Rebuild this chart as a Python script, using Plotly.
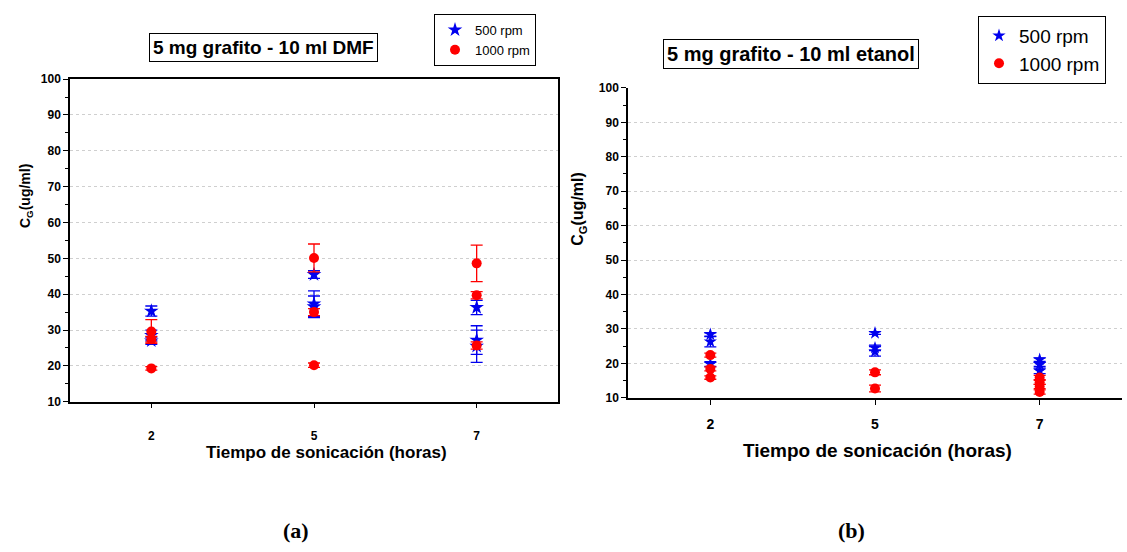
import plotly.graph_objects as go

# Sonication time categories (hours)
horas = ["2", "5", "7"]

# 5 mg grafito - 10 ml DMF
dmf_500_x = ["2", "2", "2", "5", "5", "5", "7", "7", "7"]
dmf_500_y = [35.3, 28.5, 27.0, 45.5, 37.3, 36.5, 36.3, 27.2, 25.5]
dmf_500_err = [1.4, 1.5, 1.0, 1.1, 3.6, 3.0, 2.0, 4.0, 4.5]

dmf_1000_x = ["2", "2", "2", "5", "5", "5", "7", "7", "7"]
dmf_1000_y = [29.6, 27.4, 19.3, 50.1, 35.0, 20.2, 48.6, 39.7, 25.7]
dmf_1000_err = [3.3, 0.8, 0.5, 3.9, 1.0, 0.6, 5.1, 1.0, 1.0]

# 5 mg grafito - 10 ml etanol
eta_500_x = ["2", "2", "2", "5", "5", "5", "7", "7", "7"]
eta_500_y = [28.4, 26.3, 19.8, 28.8, 24.5, 23.5, 21.1, 19.7, 17.8]
eta_500_err = [0.5, 1.5, 0.7, 0.4, 0.8, 1.4, 0.5, 0.6, 0.8]

eta_1000_x = ["2", "2", "2", "5", "5", "7", "7", "7", "7"]
eta_1000_y = [22.4, 18.4, 15.9, 17.4, 12.7, 15.9, 14.5, 13.3, 11.7]
eta_1000_err = [0.6, 0.6, 0.5, 0.7, 1.0, 0.6, 0.6, 0.6, 0.6]

BLUE = "#0000ee"
RED = "#ff0000"
W, H = 1127, 552


def px(x):
    return x / W


def py(y):
    return 1 - y / H


fig = go.Figure()


def add_series(x, y, err, color, symbol, size, name, xa, ya, legend):
    fig.add_trace(go.Scatter(
        x=x, y=y, mode="markers", name=name,
        xaxis=xa, yaxis=ya, legend=legend, showlegend=True,
        marker=dict(symbol=symbol, size=size, color=color, line=dict(width=0)),
        error_y=dict(type="data", array=err, color=color, thickness=1.3, width=6),
    ))


add_series(dmf_500_x, dmf_500_y, dmf_500_err, BLUE, "star", 11, "500 rpm", "x", "y", "legend")
add_series(dmf_1000_x, dmf_1000_y, dmf_1000_err, RED, "circle", 10, "1000 rpm", "x", "y", "legend")
add_series(eta_500_x, eta_500_y, eta_500_err, BLUE, "star", 10, "500 rpm", "x2", "y2", "legend2")
add_series(eta_1000_x, eta_1000_y, eta_1000_err, RED, "circle", 10, "1000 rpm", "x2", "y2", "legend2")

tick_font = dict(family="Liberation Sans, Arial", size=12, color="black", weight="bold")

xcommon = dict(
    type="category", categoryorder="array", categoryarray=horas,
    range=[-0.5, 2.5], showline=True, linecolor="black", linewidth=1.5,
    ticks="outside", ticklen=5, tickcolor="black", showgrid=False,
    zeroline=False, tickfont=tick_font,
)
ycommon = dict(
    range=[10, 100], dtick=10, tick0=10, showline=True, linecolor="black",
    linewidth=1.5, ticks="outside", ticklen=5, tickcolor="black",
    showgrid=True, gridcolor="#cfcfcf", griddash="dot", gridwidth=1,
    zeroline=False, tickfont=tick_font,
    minor=dict(ticks="outside", ticklen=3, dtick=5, tickcolor="black", showgrid=False),
)

fig.update_layout(
    width=W, height=H, margin=dict(l=0, r=0, t=0, b=0),
    paper_bgcolor="white", plot_bgcolor="white",
    xaxis=dict(xcommon, domain=[px(70), px(558)], anchor="y", mirror=True,
               ticklabelstandoff=17),
    yaxis=dict(ycommon, domain=[py(405), py(74)], anchor="x", mirror=True),
    xaxis2=dict(xcommon, domain=[px(628), px(1122)], anchor="y2", mirror=False,
                ticklabelstandoff=8, tickfont=dict(tick_font, size=14)),
    yaxis2=dict(ycommon, domain=[py(401), py(83)], anchor="x2", mirror=False),
    # frame of the ethanol panel: top and right edges with their own inside ticks
    xaxis3=dict(overlaying="x2", side="top", anchor="y2", range=[-1.06, 8.9],
                tick0=1, dtick=2, ticks="inside", ticklen=6, tickcolor="black",
                showticklabels=False, showgrid=False, zeroline=False,
                showline=True, linecolor="black", linewidth=1.5,
                minor=dict(ticks="inside", ticklen=3, dtick=1, tickcolor="black")),
    yaxis3=dict(overlaying="y2", side="right", anchor="x2", range=[10, 100],
                tick0=19, dtick=9, ticks="inside", ticklen=5, tickcolor="black",
                showticklabels=False, showgrid=False, zeroline=False,
                showline=True, linecolor="black", linewidth=1.5),
    legend=dict(x=px(434), y=py(7), xanchor="left", yanchor="top",
                bordercolor="black", borderwidth=1, bgcolor="white",
                font=dict(family="Liberation Sans, Arial", size=13, color="black"),
                tracegroupgap=0, itemsizing="trace", itemwidth=30),
    legend2=dict(x=px(978), y=py(9), xanchor="left", yanchor="top",
                 bordercolor="black", borderwidth=1, bgcolor="white",
                 font=dict(family="Liberation Sans, Arial", size=19, color="black"),
                 tracegroupgap=0, itemsizing="trace", itemwidth=30),
)

title_font = dict(family="Liberation Sans, Arial", color="black", weight="bold")
center = dict(xref="paper", yref="paper", showarrow=False, xanchor="center", yanchor="middle")
ann = []
# panel titles in framed boxes
ann.append(dict(center, x=px(263), y=py(42), text="5 mg grafito - 10 ml DMF",
                font=dict(title_font, size=19),
                bordercolor="black", borderwidth=1, borderpad=3, bgcolor="white"))
ann.append(dict(center, x=px(791), y=py(48), text="5 mg grafito - 10 ml etanol",
                font=dict(title_font, size=20),
                bordercolor="black", borderwidth=1, borderpad=3, bgcolor="white"))
# axis titles
ann.append(dict(center, x=px(326), y=py(457), text="Tiempo de sonicación (horas)",
                font=dict(title_font, size=17)))
ann.append(dict(center, x=px(878), y=py(455), text="Tiempo de sonicación (horas)",
                font=dict(title_font, size=19)))
ann.append(dict(center, x=px(26), y=py(194), textangle=-90, text="C<sub>G</sub>(ug/ml)",
                font=dict(title_font, size=14)))
ann.append(dict(center, x=px(579), y=py(207), textangle=-90, text="C<sub>G</sub>(ug/ml)",
                font=dict(title_font, size=16)))
# panel letters
serif = dict(family="Liberation Serif, Times New Roman", size=22, color="black", weight="bold")
ann.append(dict(center, x=px(296), y=py(537), text="(a)", font=serif))
ann.append(dict(center, x=px(851), y=py(537), text="(b)", font=serif))
fig.update_layout(annotations=ann)

fig.write_html("out.html")
